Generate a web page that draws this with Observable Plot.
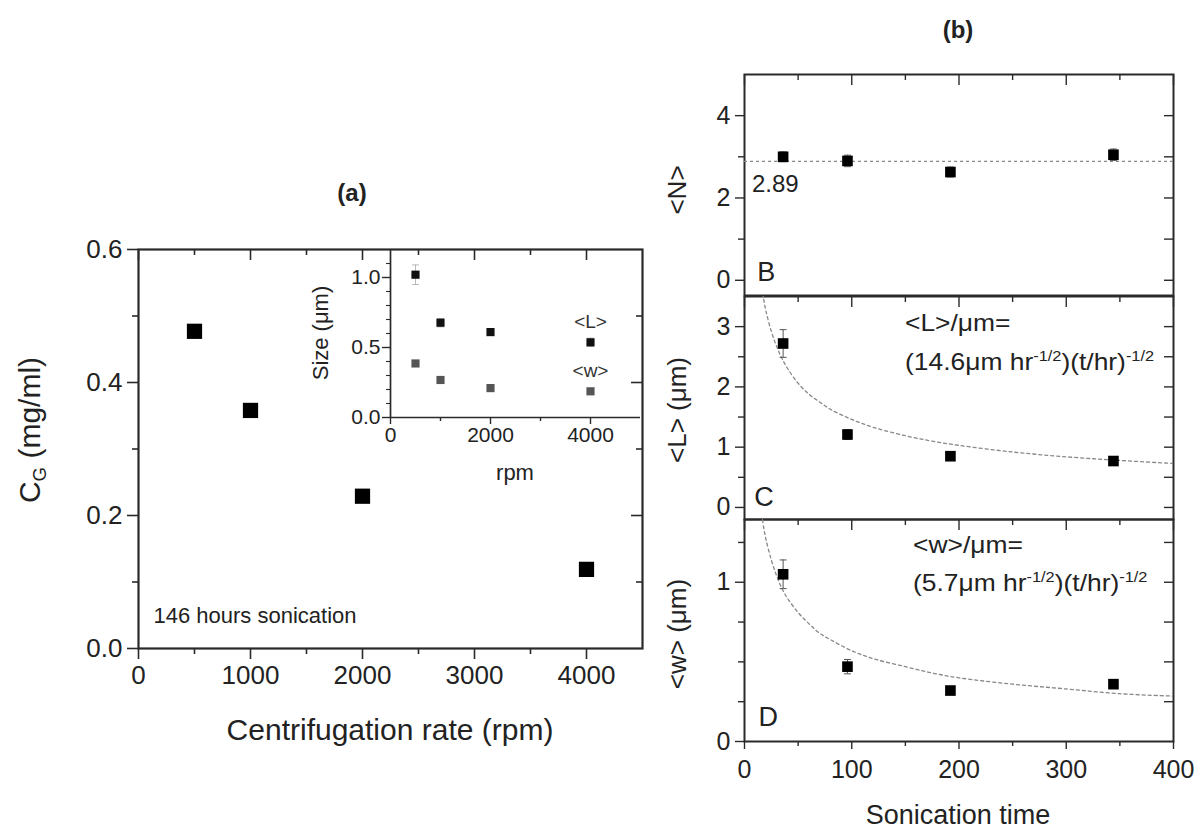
<!DOCTYPE html>
<html><head><meta charset="utf-8">
<script src="https://cdn.jsdelivr.net/npm/d3@7"></script>
<script src="https://cdn.jsdelivr.net/npm/@observablehq/plot@0.6"></script>
<style>
body{margin:0;background:#fff;}
#root{position:relative;width:1195px;height:828px;overflow:hidden;font-family:"Liberation Sans",Arial,sans-serif;color:#222;background:#fff;}
.pl{position:absolute;}
.lbl{position:absolute;white-space:nowrap;transform:translate(-50%,-50%);line-height:1;}
.rot{transform:translate(-50%,-50%) rotate(-90deg);}
.st{transform:translate(0,-50%) scaleX(1.1);transform-origin:0 50%;}
sup{font-size:0.62em;vertical-align:0;position:relative;top:-0.62em;}
sub{font-size:0.62em;vertical-align:0;position:relative;top:0.3em;}
</style></head><body><div id="root"></div>
<script>
// ---------------- data ----------------
const rpm = [500, 1000, 2000, 4000];
const cg = [0.477, 0.358, 0.229, 0.119];
const insetL = [1.02, 0.677, 0.61, 0.537];
const insetLerr = [0.07, 0.03, 0.02, 0.03];
const insetW = [0.386, 0.268, 0.21, 0.187];
const insetWerr = [0.02, 0.015, 0.01, 0.01];
const sonT = [36, 96, 192, 344];
const nVals = [3.0, 2.9, 2.63, 3.05];
const nErr = [0.12, 0.14, 0.12, 0.14];
const nMean = 2.89;
const lVals = [2.72, 1.21, 0.85, 0.77];
const lErr = [0.23, 0.08, 0.04, 0.03];
const wVals = [1.05, 0.47, 0.32, 0.36];
const wErr = [0.09, 0.045, 0.02, 0.02];
const fitT = [16, 18, 20, 25, 30, 35, 40, 50, 60, 70, 80, 100, 120, 150, 175, 200, 250, 300, 350, 400];
const fitL = [3.65, 3.44, 3.26, 2.92, 2.67, 2.47, 2.31, 2.06, 1.88, 1.75, 1.63, 1.46, 1.33, 1.19, 1.10, 1.03, 0.92, 0.84, 0.78, 0.73];
const fitW = [1.43, 1.34, 1.27, 1.14, 1.04, 0.96, 0.90, 0.81, 0.74, 0.68, 0.64, 0.57, 0.52, 0.47, 0.43, 0.40, 0.36, 0.33, 0.30, 0.285];
const rpmMajor = [0, 1000, 2000, 3000, 4000];
const rpmMinor = [500, 1500, 2500, 3500];
const cgMajor = [0, 0.2, 0.4, 0.6];
const cgMinor = [0.1, 0.3, 0.5];
const insXMajor = [0, 2000, 4000];
const insXMinor = [1000, 3000];
const insYMajor = [0, 0.5, 1.0];
const insYMinor = [0.1, 0.2, 0.3, 0.4, 0.6, 0.7, 0.8, 0.9, 1.1];
const tMajor = [0, 100, 200, 300, 400];
const tMinor = [50, 150, 250, 350];

// ---------------- helpers ----------------
const root = document.getElementById("root");
const blank = () => "";
const cap = {draw(ctx, size) { const h = Math.sqrt(size / Math.PI); ctx.moveTo(-h, 0); ctx.lineTo(h, 0); }};
function put(svg, left, top) { svg.classList.add("pl"); svg.style.left = left + "px"; svg.style.top = top + "px"; root.appendChild(svg); return svg; }
function label(html, x, y, size, cls = "", bold = false) {
  const d = document.createElement("div");
  d.className = "lbl " + cls; d.innerHTML = html;
  d.style.left = x + "px"; d.style.top = y + "px"; d.style.fontSize = size + "px";
  if (bold) d.style.fontWeight = "bold";
  root.appendChild(d); return d;
}
const baseStyle = {fontFamily: '"Liberation Sans", Arial, sans-serif', background: "transparent", color: "#222", overflow: "visible"};
const INK = "#2a2a2a";
// Origin-style axes: outward labelled ticks bottom/left, inward mirrored ticks top/right
function axes({iw, ih, xMajor, xMinor, yMajor, yMinor, yRight, yRightMinor, fs, xLabels = false, yFmt, xFmt,
               xMaj = 11, xMin = 6, yMaj = 9, yMin = 6, tMaj = 11, tMin = 6, rMaj = 9, rMin = 6, top = true, pad = 5, xPad = 4, sw = 1.4}) {
  const m = [];
  if (xLabels) {
    m.push(Plot.axisX(xMajor, {anchor: "bottom", tickSize: xMaj, tickPadding: xPad, fontSize: fs, tickFormat: xFmt, strokeWidth: sw, stroke: INK, label: null}));
    if (xMinor) m.push(Plot.axisX(xMinor, {anchor: "bottom", tickSize: xMin, tickFormat: blank, strokeWidth: sw, stroke: INK, label: null}));
  }
  if (top) {
    m.push(Plot.tickX(xMajor, {x: d => d, insetBottom: ih - tMaj, stroke: INK, strokeWidth: sw}));
    if (xMinor) m.push(Plot.tickX(xMinor, {x: d => d, insetBottom: ih - tMin, stroke: INK, strokeWidth: sw}));
  }
  m.push(Plot.axisY(yMajor, {anchor: "left", tickSize: yMaj, tickPadding: pad, fontSize: fs, tickFormat: yFmt, strokeWidth: sw, stroke: INK, label: null}));
  if (yMinor) m.push(Plot.axisY(yMinor, {anchor: "left", tickSize: yMin, tickFormat: blank, strokeWidth: sw, stroke: INK, label: null}));
  if (yRight) m.push(Plot.tickY(yRight, {y: d => d, insetLeft: iw - rMaj, stroke: INK, strokeWidth: sw}));
  if (yRightMinor) m.push(Plot.tickY(yRightMinor, {y: d => d, insetLeft: iw - rMin, stroke: INK, strokeWidth: sw}));
  return m;
}
function errMarks(rows, color) {
  const ends = rows.flatMap(d => [{t: d.t, y: d.v - d.e}, {t: d.t, y: d.v + d.e}]);
  return [
    Plot.ruleX(rows, {x: "t", y1: d => d.v - d.e, y2: d => d.v + d.e, stroke: color, strokeWidth: 1}),
    Plot.dot(ends, {x: "t", y: "y", symbol: cap, r: 3.5, stroke: color, strokeWidth: 1})
  ];
}

// ---------------- panel (a) ----------------
const A = {width: 680, height: 640, ml: 138, mt: 99, mr: 38, mb: 142};
const rowsA = rpm.map((x, i) => ({x, v: cg[i]}));
const pA = Plot.plot({
  width: A.width, height: A.height, marginLeft: A.ml, marginTop: A.mt, marginRight: A.mr, marginBottom: A.mb,
  style: {...baseStyle, fontSize: "26px"},
  x: {domain: [0, 4500]}, y: {domain: [0, 0.6]},
  marks: [
    ...axes({iw: A.width - A.ml - A.mr, ih: A.height - A.mt - A.mb,
      xMajor: rpmMajor, xMinor: rpmMinor, yMajor: cgMajor, yMinor: cgMinor, yRight: [0.2, 0.4], yRightMinor: [0.1, 0.3, 0.5],
      fs: 26, xLabels: true, yFmt: d3.format(".1f"), xFmt: d3.format("d"), yMaj: 11, rMaj: 11, pad: 5, xPad: 6, sw: 1.6}),
    Plot.frame({stroke: INK, strokeWidth: 2.2}),
    Plot.dot(rowsA, {x: "x", y: "v", symbol: "square", r: 8.6, fill: "#000"}),
    Plot.text(["146 hours sonication"], {frameAnchor: "bottom-left", textAnchor: "start", dx: 15, dy: -26, fontSize: 22, fill: "#222"})
  ]
});
put(pA, 0, 150);

// inset
const rowsIL = rpm.map((t, i) => ({t, v: insetL[i], e: insetLerr[i]}));
const rowsIW = rpm.map((t, i) => ({t, v: insetW[i], e: insetWerr[i]}));
const pI = Plot.plot({
  width: 345, height: 260, marginLeft: 90, marginTop: 19, marginRight: 5, marginBottom: 73,
  style: {...baseStyle, fontSize: "21px"},
  x: {domain: [0, 5000]}, y: {domain: [0, 1.2]},
  marks: [
    Plot.ruleX([0], {stroke: INK, strokeWidth: 1.7}),
    Plot.ruleY([0], {stroke: INK, strokeWidth: 1.7}),
    Plot.axisX(insXMajor, {anchor: "bottom", tickSize: 7, tickPadding: 3, fontSize: 21, tickFormat: d3.format("d"), strokeWidth: 1.4, stroke: INK, label: null}),
    Plot.axisX(insXMinor, {anchor: "bottom", tickSize: 4, tickFormat: blank, strokeWidth: 1.4, stroke: INK, label: null}),
    Plot.axisY(insYMajor, {anchor: "left", tickSize: 8, tickPadding: 2, fontSize: 21, tickFormat: d3.format(".1f"), strokeWidth: 1.4, stroke: INK, label: null}),
    Plot.axisY(insYMinor, {anchor: "left", tickSize: 4, tickFormat: blank, strokeWidth: 1.1, stroke: INK, label: null}),
    ...errMarks(rowsIL, "#bbb"),
    ...errMarks(rowsIW, "#bbb"),
    Plot.dot(rowsIL, {x: "t", y: "v", symbol: "square", r: 4.6, fill: "#111"}),
    Plot.dot(rowsIW, {x: "t", y: "v", symbol: "square", r: 4.6, fill: "#555"}),
    Plot.text(["<L>"], {x: 4000, y: 0.686, fontSize: 19, fill: "#333"}),
    Plot.text(["<w>"], {x: 4000, y: 0.336, fontSize: 19, fill: "#333"})
  ]
});
put(pI, 300, 230);

label("(a)", 352, 193, 24, "", true);
label("C<sub>G</sub> (mg/ml)", 30, 430, 30, "rot");
label("Centrifugation rate (rpm)", 390, 730, 30);
label("Size (μm)", 321, 333, 22, "rot");
label("rpm", 515, 473, 22);

// ---------------- panel (b) ----------------
const rowsN = sonT.map((t, i) => ({t, v: nVals[i], e: nErr[i]}));
const rowsL = sonT.map((t, i) => ({t, v: lVals[i], e: lErr[i]}));
const rowsW = sonT.map((t, i) => ({t, v: wVals[i], e: wErr[i]}));
const fitRowsL = fitT.map((t, i) => ({t, v: fitL[i]}));
const fitRowsW = fitT.map((t, i) => ({t, v: fitW[i]}));
const dash = {stroke: "#888", strokeDasharray: "3,3", strokeWidth: 1.3};
const bW = 555, bML = 104, bMR = 22, bIW = bW - bML - bMR;

const pB = Plot.plot({
  width: bW, height: 265, marginLeft: bML, marginRight: bMR, marginTop: 34, marginBottom: 10,
  style: {...baseStyle, fontSize: "25px"},
  x: {domain: [0, 400], axis: null}, y: {domain: [-0.37, 5.0]},
  marks: [
    ...axes({iw: bIW, ih: 265 - 44, xMajor: tMajor, xMinor: tMinor, yMajor: [0, 2, 4], yMinor: [1, 3], yRight: [0, 1, 2, 3, 4], fs: 25, yFmt: d3.format("d")}),
    Plot.frame({stroke: INK, strokeWidth: 2}),
    Plot.ruleY([nMean], dash),
    ...errMarks(rowsN, "#666"),
    Plot.dot(rowsN, {x: "t", y: "v", symbol: "square", r: 6, fill: "#000"}),
    Plot.text([String(nMean)], {x: 7, y: 2.34, textAnchor: "start", fontSize: 24, fill: "#222"}),
    Plot.text(["B"], {x: 12, y: 0.2, textAnchor: "start", fontSize: 27, fill: "#222"})
  ]
});
put(pB, 640, 40);

const pC = Plot.plot({
  width: bW, height: 250, marginLeft: bML, marginRight: bMR, marginTop: 16, marginBottom: 11,
  style: {...baseStyle, fontSize: "25px"},
  x: {domain: [0, 400], axis: null}, y: {domain: [-0.2, 3.5]},
  marks: [
    ...axes({iw: bIW, ih: 250 - 27, xMajor: tMajor, xMinor: tMinor, yMajor: [0, 1, 2, 3], yMinor: [0.5, 1.5, 2.5], yRight: [0, 0.5, 1, 1.5, 2, 2.5, 3], fs: 25, yFmt: d3.format("d")}),
    Plot.frame({stroke: INK, strokeWidth: 2}),
    Plot.line(fitRowsL, {x: "t", y: "v", ...dash, curve: "catmull-rom", clip: true}),
    ...errMarks(rowsL, "#555"),
    Plot.dot(rowsL, {x: "t", y: "v", symbol: "square", r: 6, fill: "#000"}),
    Plot.text(["C"], {x: 9, y: 0.17, textAnchor: "start", fontSize: 27, fill: "#222"})
  ]
});
put(pC, 640, 280);

const pD = Plot.plot({
  width: bW, height: 328, marginLeft: bML, marginRight: bMR, marginTop: 19, marginBottom: 87,
  style: {...baseStyle, fontSize: "25px"},
  x: {domain: [0, 400]}, y: {domain: [0, 1.394]},
  marks: [
    ...axes({iw: bIW, ih: 328 - 106, xMajor: tMajor, xMinor: tMinor, yMajor: [0, 1], yMinor: [0.25, 0.5, 0.75, 1.25], yRight: [0.25, 0.5, 0.75, 1, 1.25],
      fs: 25, xLabels: true, yFmt: d3.format("d"), xFmt: d3.format("d"), xMaj: 8, xMin: 5, xPad: 11}),
    Plot.frame({stroke: INK, strokeWidth: 2}),
    Plot.line(fitRowsW, {x: "t", y: "v", ...dash, curve: "catmull-rom", clip: true}),
    ...errMarks(rowsW, "#555"),
    Plot.dot(rowsW, {x: "t", y: "v", symbol: "square", r: 6, fill: "#000"}),
    Plot.text(["D"], {x: 13, y: 0.15, textAnchor: "start", fontSize: 27, fill: "#222"})
  ]
});
put(pD, 640, 500);

// annotations positioned through the plots' own scales
function at(p, left, top, x, y) { return [left + p.scale("x").apply(x), top + p.scale("y").apply(y)]; }
let q;
q = at(pC, 640, 280, 150, 3.05); label("&lt;L&gt;/μm=", q[0], q[1], 24, "st");
q = at(pC, 640, 280, 150, 2.40); label("(14.6μm hr<sup>-1/2</sup>)(t/hr)<sup>-1/2</sup>", q[0], q[1], 24, "st");
q = at(pD, 640, 500, 158, 1.23); label("&lt;w&gt;/μm=", q[0], q[1], 24, "st");
q = at(pD, 640, 500, 158, 0.99); label("(5.7μm hr<sup>-1/2</sup>)(t/hr)<sup>-1/2</sup>", q[0], q[1], 24, "st");

label("(b)", 958, 30, 24, "", true);
label("&lt;N&gt;", 677, 190, 26, "rot");
label("&lt;L&gt; (μm)", 677, 410, 26, "rot");
label("&lt;w&gt; (μm)", 677, 634, 26, "rot");
label("Sonication time", 958, 815, 27);
</script></body></html>
